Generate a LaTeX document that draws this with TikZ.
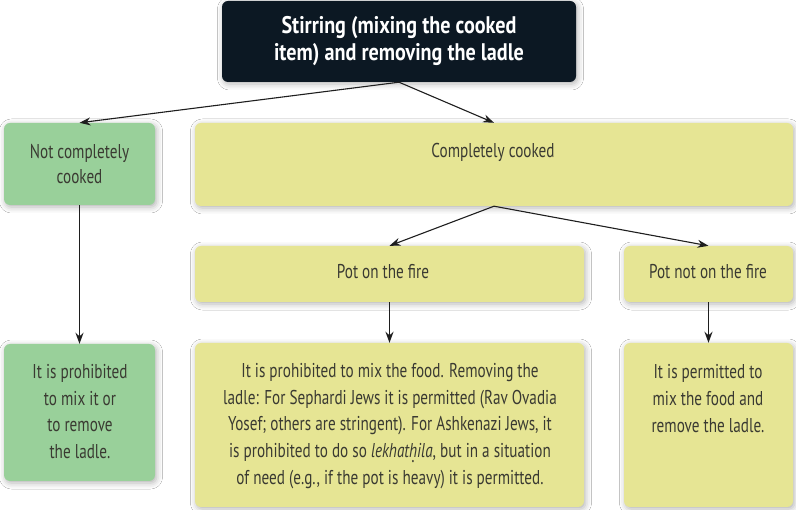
\documentclass[tikz,border=0pt]{standalone}
\usepackage{fontspec}
\setmainfont[FakeStretch=0.76]{PT Sans}
\newfontfamily\titlefont[FakeStretch=0.84]{PT Sans}
\usetikzlibrary{arrows.meta,shadows.blur}

\definecolor{cdark}{RGB}{12,24,35}
\definecolor{cgreen}{RGB}{153,208,154}
\definecolor{cyellow}{RGB}{230,229,148}
\definecolor{ctext}{RGB}{58,58,50}
\definecolor{carrow}{RGB}{30,30,30}

% dot-below h for the transliterated term
\newcommand{\hdot}{\ooalign{h\cr\hidewidth\raisebox{-0.45ex}{.}\hidewidth\cr}}

\begin{document}
\begin{tikzpicture}[x=1pt,y=-1pt,
  box/.style={rounded corners=6pt, inner sep=0pt, draw=none,
    blur shadow={shadow xshift=1.5pt, shadow yshift=-2pt,
      shadow blur radius=6pt, shadow opacity=30}},
  gbox/.style={box, fill=cgreen},
  ybox/.style={box, fill=cyellow},
  txt/.style={text=ctext, align=center, inner sep=0pt,
    font=\fontsize{20}{26.7}\selectfont},
  title/.style={text=white, align=center, inner sep=0pt,
    font=\titlefont\fontsize{24}{27}\selectfont\bfseries},
  arr/.style={-{Stealth[length=11pt,width=8pt]}, line width=1.1pt, draw=carrow},
  arrthick/.style={arr, line width=1.8pt}]

\useasboundingbox[fill=white] (0,0) rectangle (796,510);

% boxes
\node[box, fill=cdark, minimum width=354pt, minimum height=81pt] (stir) at (399,41.5) {};
\node[gbox, minimum width=151pt, minimum height=82pt] (ncc) at (79.5,164) {};
\node[ybox, minimum width=598pt, minimum height=83pt] (cc) at (494,164.5) {};
\node[ybox, minimum width=389pt, minimum height=56pt] (pof) at (389.5,274) {};
\node[ybox, minimum width=169pt, minimum height=56pt] (pnof) at (708.5,274) {};
\node[gbox, minimum width=151pt, minimum height=137pt] (proh) at (79.5,412.5) {};
\node[ybox, minimum width=389pt, minimum height=164pt] (mid) at (389.5,425) {};
\node[ybox, minimum width=169pt, minimum height=164pt] (perm) at (708.5,425) {};

% texts
\node[title] (stirtxt) at (399,41.5) {Stirring (mixing the cooked\\item) and removing the ladle};
\node[txt, font=\fontsize{20}{25}\selectfont] (ncctxt) at (79.5,164.5) {Not completely\\cooked};
\node[txt] (cctxt) at (493,152) {Completely cooked};
\node[txt] (poftxt) at (383,272) {Pot on the fire};
\node[txt] (pnoftxt) at (708,272) {Pot not on the fire};
\node[txt] (prohtxt) at (80,411.5) {It is prohibited\\to mix it or\\to remove\\the ladle.};
\node[txt] (midtxt) at (390,426) {It is prohibited to mix the food. Removing the\\
  ladle: For Sephardi Jews it is permitted (Rav Ovadia\\
  Yosef; others are stringent). For Ashkenazi Jews, it\\
  is prohibited to do so \textit{lekhat\hdot ila}, but in a situation\\
  of need (e.g., if the pot is heavy) it is permitted.};
\node[txt] (permtxt) at (708,398.5) {It is permitted to\\mix the food and\\remove the ladle.};

% connectors
\draw[arr] (stir.south) -- (ncc.north);
\draw[arr] (stir.south) -- (cc.north);
\draw[arr, line width=1.4pt] (ncc.south) -- (proh.north);
\draw[arr] (cc.south) -- (pof.north);
\draw[arr] (cc.south) -- (pnof.north);
\draw[arrthick] (pof.south) -- (mid.north);
\draw[arrthick] (pnof.south) -- (perm.north);
\end{tikzpicture}
\end{document}
